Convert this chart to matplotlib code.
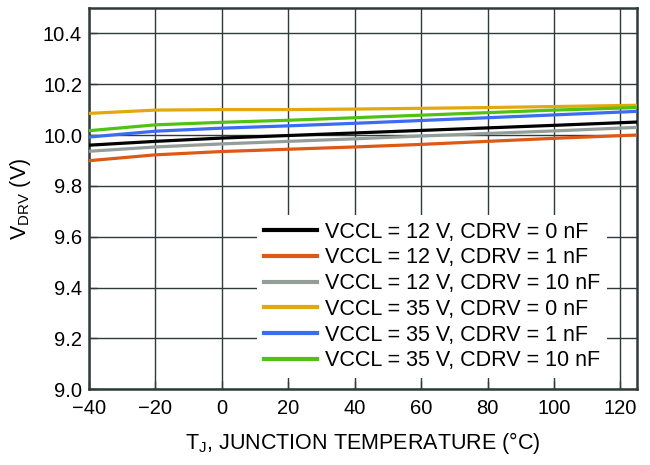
import matplotlib
matplotlib.use("Agg")
import matplotlib.pyplot as plt

plt.rcParams['font.family'] = ['Liberation Sans', 'DejaVu Sans']
plt.rcParams['mathtext.default'] = 'regular'

# junction temperature (°C)
temp = [-40, -20, 0, 20, 40, 60, 80, 100, 125]

# V_DRV (V) per condition
v12_0nF = [9.960, 9.975, 9.988, 9.998, 10.008, 10.018, 10.028, 10.038, 10.051]
v12_1nF = [9.899, 9.922, 9.935, 9.944, 9.953, 9.963, 9.975, 9.987, 10.000]
v12_10nF = [9.936, 9.953, 9.965, 9.975, 9.985, 9.996, 10.006, 10.016, 10.030]
v35_0nF = [10.085, 10.098, 10.100, 10.100, 10.102, 10.105, 10.108, 10.112, 10.117]
v35_1nF = [9.992, 10.015, 10.027, 10.036, 10.046, 10.057, 10.068, 10.079, 10.093]
v35_10nF = [10.017, 10.040, 10.050, 10.058, 10.068, 10.078, 10.088, 10.098, 10.108]

series = [
    (v12_0nF, '#000000', 'VCCL = 12 V, CDRV = 0 nF'),
    (v12_1nF, '#dc5a14', 'VCCL = 12 V, CDRV = 1 nF'),
    (v12_10nF, '#949e99', 'VCCL = 12 V, CDRV = 10 nF'),
    (v35_0nF, '#e2a810', 'VCCL = 35 V, CDRV = 0 nF'),
    (v35_1nF, '#3a6cf4', 'VCCL = 35 V, CDRV = 1 nF'),
    (v35_10nF, '#4fc214', 'VCCL = 35 V, CDRV = 10 nF'),
]

fig = plt.figure(figsize=(6.5, 4.65), dpi=100)
ax = fig.add_axes([0.137, 0.163, 0.843, 0.82])

for vals, col, lab in series:
    ax.plot(temp, vals, color=col, lw=2.3, label=lab, zorder=3)

ax.set_xlim(-40, 125)
ax.set_ylim(9.0, 10.5)
ax.set_xticks(range(-40, 121, 20))
ax.set_yticks([9.0, 9.2, 9.4, 9.6, 9.8, 10.0, 10.2, 10.4])
ax.set_yticklabels(['9.0', '9.2', '9.4', '9.6', '9.8', '10.0', '10.2', '10.4'])
ax.set_xticklabels(['\u221240', '\u221220', '0', '20', '40', '60', '80', '100', '120'])
ax.grid(True, color='#2f3a3a', lw=1.0)
ax.tick_params(direction='in', length=6, width=1, color='#2f3a3a', labelsize=14.5)
ax.tick_params(axis='y', pad=5)
ax.tick_params(axis='x', pad=7)
for s in ax.spines.values():
    s.set_color('#2f3a3a')
    s.set_linewidth(1.8)

ax.set_xlabel('T$_J$, JUNCTION TEMPERATURE (°C)', fontsize=15.5, labelpad=9)
ax.set_ylabel('V$_{DRV}$ (V)', fontsize=15.5, labelpad=7)

leg = ax.legend(loc='lower right', bbox_to_anchor=(0.945, 0.03), frameon=True,
                fontsize=15.5, handlelength=2.45, handletextpad=0.4,
                labelspacing=0.22, borderpad=0.3, borderaxespad=0.0)
leg.get_frame().set_edgecolor('none')
leg.get_frame().set_facecolor('white')
leg.get_frame().set_alpha(1.0)
leg.get_frame().set_boxstyle('square', pad=0)
for h in leg.get_lines():
    h.set_linewidth(3)

fig.savefig('out.png', dpi=100, facecolor='white')
